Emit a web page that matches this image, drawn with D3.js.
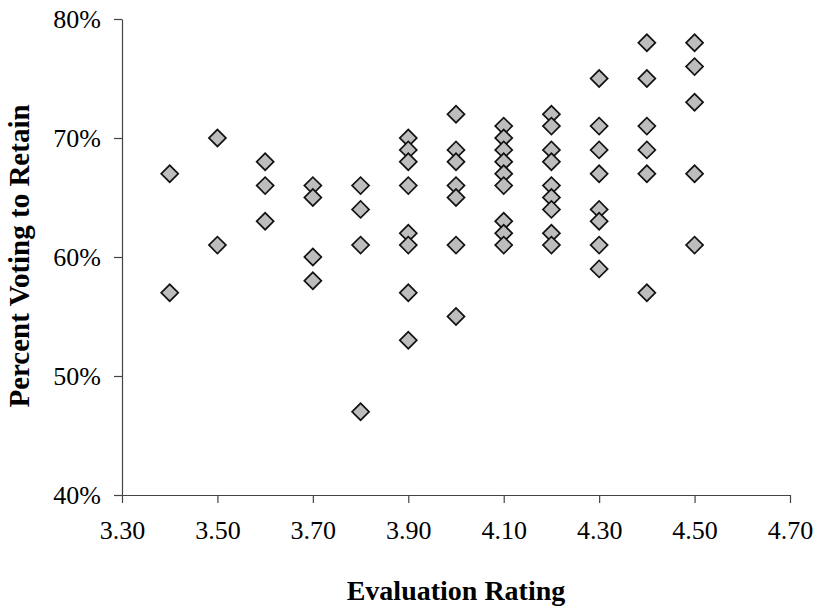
<!DOCTYPE html>
<html>
<head>
<meta charset="utf-8">
<script src="https://cdn.jsdelivr.net/npm/d3@7"></script>
<style>
  html, body { margin:0; padding:0; background:#fff; }
  svg text { font-family: "Liberation Serif", "Times New Roman", serif; fill:#000; }
</style>
</head>
<body>
<svg id="stage" width="814" height="607"></svg>
<script>
(function(){
  const svg = d3.select("#stage");

  // ---- data ----
  const ratings = [3.4, 3.5, 3.6, 3.7, 3.8, 3.9, 4.0, 4.1, 4.2, 4.3, 4.4, 4.5];
  const retainPct = [
    [67, 57],
    [70, 61],
    [68, 66, 63],
    [66, 65, 60, 58],
    [66, 64, 61, 47],
    [70, 69, 68, 66, 62, 61, 57, 53],
    [72, 69, 68, 66, 65, 61, 55],
    [71, 70, 69, 68, 67, 66, 63, 62, 61],
    [72, 71, 69, 68, 66, 65, 64, 62, 61],
    [75, 71, 69, 67, 64, 63, 61, 59],
    [78, 75, 71, 69, 67, 57],
    [78, 76, 73, 67, 61]
  ];
  const xTicks = [3.3, 3.5, 3.7, 3.9, 4.1, 4.3, 4.5, 4.7];
  const yTicks = [0.4, 0.5, 0.6, 0.7, 0.8];

  const points = [];
  ratings.forEach((r, i) => retainPct[i].forEach(p => points.push({ x: r, y: p / 100 })));

  // ---- layout ----
  const X0 = 122, X1 = 790, Y0 = 495, Y1 = 19;
  const x = d3.scaleLinear().domain([3.3, 4.7]).range([X0, X1]);
  const y = d3.scaleLinear().domain([0.4, 0.8]).range([Y0, Y1]);

  // ---- axes ----
  const gx = svg.append("g").attr("transform", `translate(0,${Y0})`)
    .call(d3.axisBottom(x).tickValues(xTicks).tickSize(8).tickSizeOuter(0)
      .tickFormat(d3.format(".2f")));
  const gy = svg.append("g").attr("transform", `translate(${X0},0)`)
    .call(d3.axisLeft(y).tickValues(yTicks).tickSize(8).tickSizeOuter(0)
      .tickFormat(d3.format(".0%")));

  [gx, gy].forEach(g => {
    g.select(".domain").attr("stroke", "#444").attr("stroke-width", 1.2);
    g.selectAll(".tick line").attr("stroke", "#444").attr("stroke-width", 1.2);
    g.selectAll(".tick text")
      .attr("font-family", "Liberation Serif, Times New Roman, serif")
      .attr("font-size", 26).attr("fill", "#000");
  });
  gx.selectAll(".tick text").attr("y", 36).attr("dy", "0.32em");
  gy.selectAll(".tick text").attr("x", -21).attr("dy", "0.34em");

  // ---- points ----
  const diamond = d3.symbol().type(d3.symbolSquare).size(145);
  svg.append("g").selectAll("path")
    .data(points)
    .join("path")
      .attr("d", diamond)
      .attr("transform", d => `translate(${x(d.x)},${y(d.y)}) rotate(45)`)
      .attr("fill", "#bdbdbd")
      .attr("stroke", "#111")
      .attr("stroke-width", 1.7);

  // ---- axis titles ----
  svg.append("text")
    .attr("x", (X0 + X1) / 2).attr("y", 600)
    .attr("text-anchor", "middle")
    .attr("font-size", 28).attr("font-weight", "bold")
    .text("Evaluation Rating");

  svg.append("text")
    .attr("transform", "translate(29,256) rotate(-90)")
    .attr("text-anchor", "middle")
    .attr("font-size", 29).attr("font-weight", "bold")
    .text("Percent Voting to Retain");
})();
</script>
</body>
</html>
